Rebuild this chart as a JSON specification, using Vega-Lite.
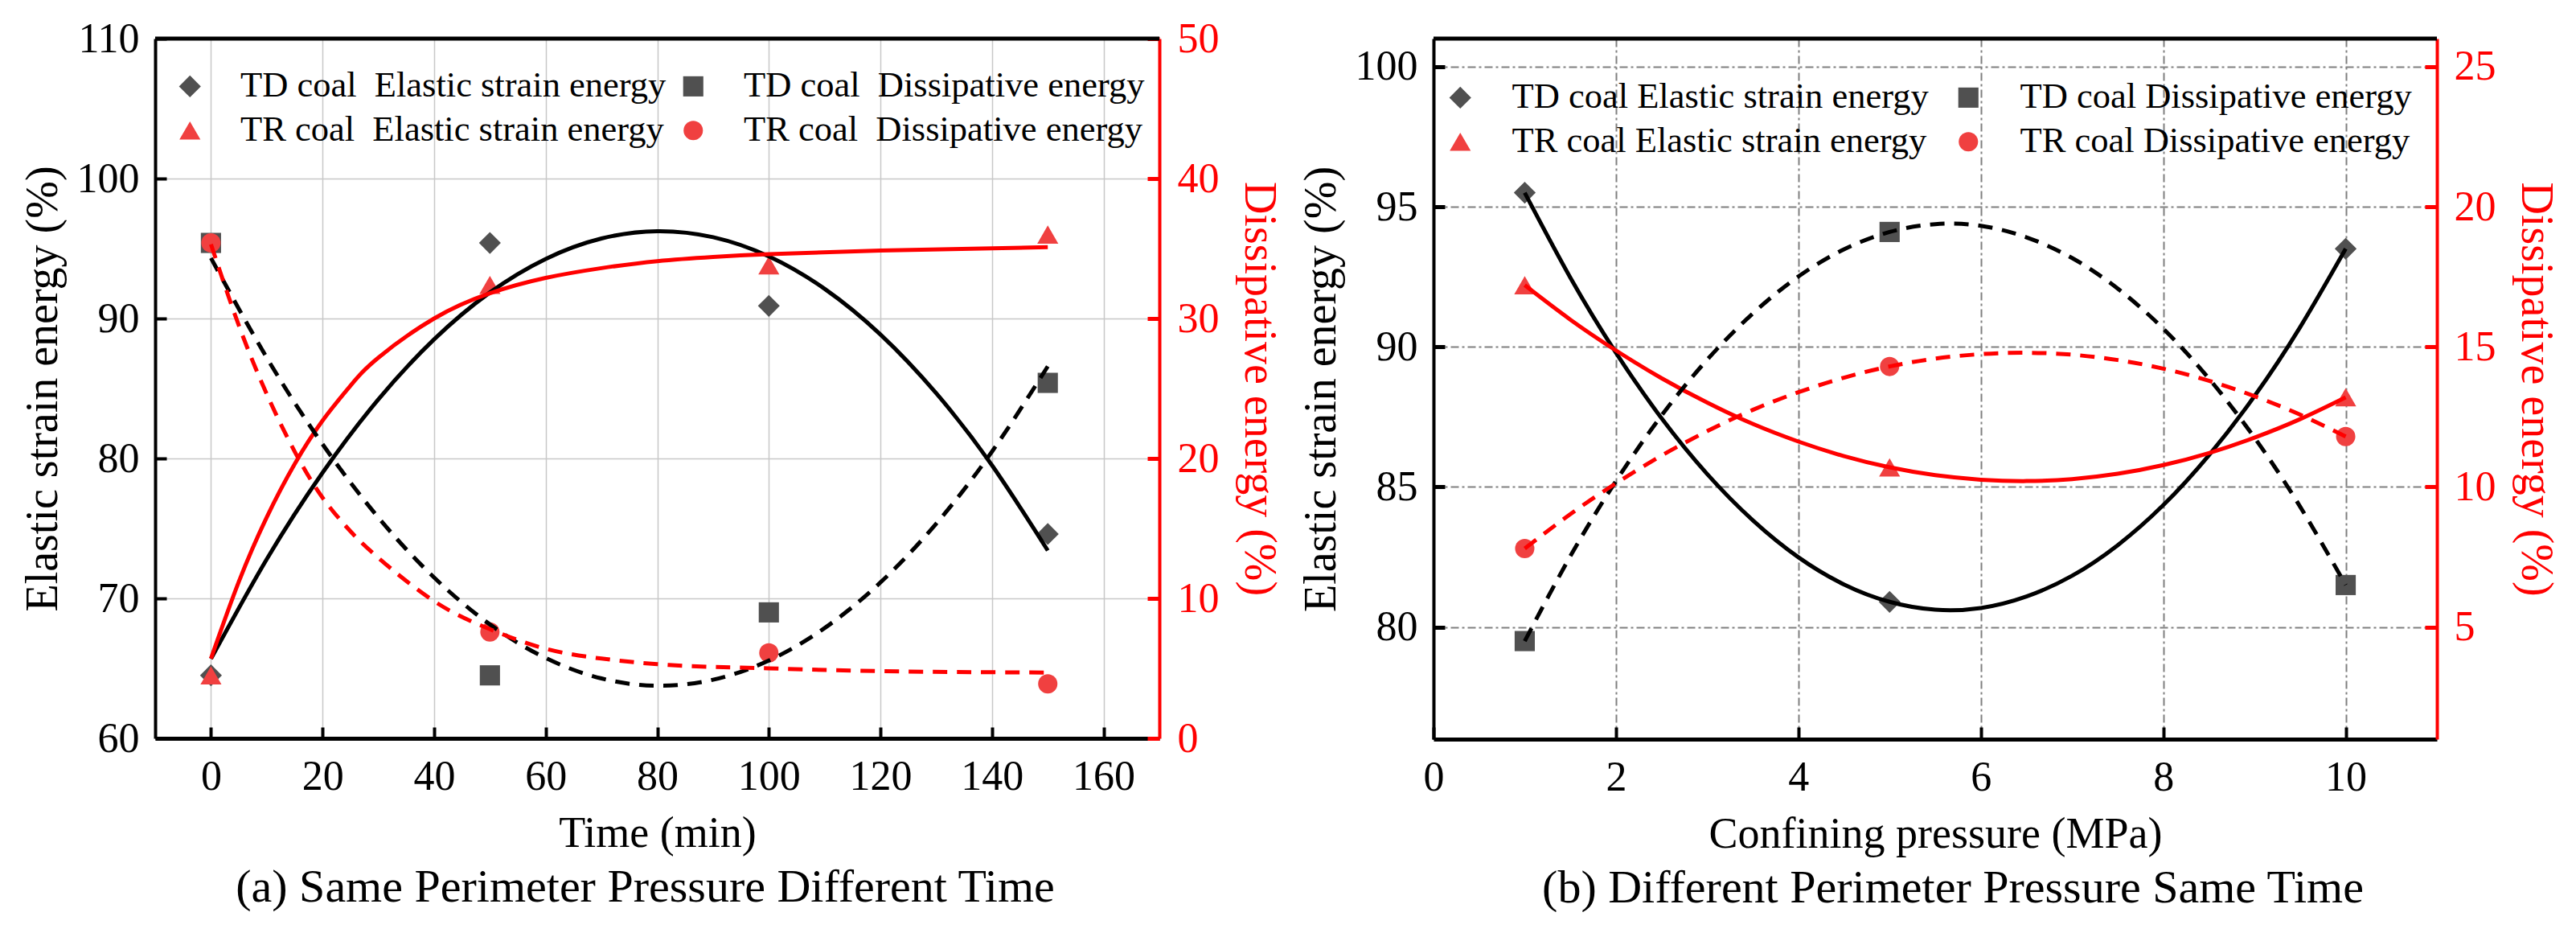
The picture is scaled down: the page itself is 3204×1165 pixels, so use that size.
{
  "$schema": "https://vega.github.io/schema/vega-lite/v6.json",
  "background": "white",
  "padding": {"left": 25, "top": 22, "right": 0, "bottom": 0},
  "spacing": 341,
  "bounds": "flush",
  "datasets": {
    "a_pts": [
      {"x": 0, "s": "TD coal\u00a0 Elastic strain energy", "g": "e", "v": 64.5},
      {"x": 50, "s": "TD coal\u00a0 Elastic strain energy", "g": "e", "v": 95.4},
      {"x": 100, "s": "TD coal\u00a0 Elastic strain energy", "g": "e", "v": 90.9},
      {"x": 150, "s": "TD coal\u00a0 Elastic strain energy", "g": "e", "v": 74.6},
      {"x": 0, "s": "TR coal\u00a0 Elastic strain energy", "g": "e", "v": 64.5},
      {"x": 50, "s": "TR coal\u00a0 Elastic strain energy", "g": "e", "v": 92.4},
      {"x": 100, "s": "TR coal\u00a0 Elastic strain energy", "g": "e", "v": 93.8},
      {"x": 150, "s": "TR coal\u00a0 Elastic strain energy", "g": "e", "v": 96.0},
      {"x": 0, "s": "TD coal\u00a0 Dissipative energy", "g": "d", "v": 35.4},
      {"x": 50, "s": "TD coal\u00a0 Dissipative energy", "g": "d", "v": 4.5},
      {"x": 100, "s": "TD coal\u00a0 Dissipative energy", "g": "d", "v": 9.0},
      {"x": 150, "s": "TD coal\u00a0 Dissipative energy", "g": "d", "v": 25.4},
      {"x": 0, "s": "TR coal\u00a0 Dissipative energy", "g": "d", "v": 35.4},
      {"x": 50, "s": "TR coal\u00a0 Dissipative energy", "g": "d", "v": 7.6},
      {"x": 100, "s": "TR coal\u00a0 Dissipative energy", "g": "d", "v": 6.1},
      {"x": 150, "s": "TR coal\u00a0 Dissipative energy", "g": "d", "v": 3.9}
    ],
    "a_curves": [
      {"x": 0, "c": "TD", "g": "e", "v": 65.68},
      {"x": 10, "c": "TD", "g": "e", "v": 72.8},
      {"x": 20, "c": "TD", "g": "e", "v": 78.98},
      {"x": 30, "c": "TD", "g": "e", "v": 84.22},
      {"x": 40, "c": "TD", "g": "e", "v": 88.51},
      {"x": 50, "c": "TD", "g": "e", "v": 91.86},
      {"x": 60, "c": "TD", "g": "e", "v": 94.26},
      {"x": 70, "c": "TD", "g": "e", "v": 95.72},
      {"x": 80, "c": "TD", "g": "e", "v": 96.24},
      {"x": 90, "c": "TD", "g": "e", "v": 95.81},
      {"x": 100, "c": "TD", "g": "e", "v": 94.44},
      {"x": 110, "c": "TD", "g": "e", "v": 92.12},
      {"x": 120, "c": "TD", "g": "e", "v": 88.86},
      {"x": 130, "c": "TD", "g": "e", "v": 84.66},
      {"x": 140, "c": "TD", "g": "e", "v": 79.51},
      {"x": 150, "c": "TD", "g": "e", "v": 73.42},
      {"x": 0, "c": "TR", "g": "e", "v": 65.7},
      {"x": 5, "c": "TR", "g": "e", "v": 71.2},
      {"x": 10, "c": "TR", "g": "e", "v": 75.8},
      {"x": 15, "c": "TR", "g": "e", "v": 79.6},
      {"x": 20, "c": "TR", "g": "e", "v": 82.7},
      {"x": 25, "c": "TR", "g": "e", "v": 85.2},
      {"x": 30, "c": "TR", "g": "e", "v": 87.2},
      {"x": 40, "c": "TR", "g": "e", "v": 90.0},
      {"x": 50, "c": "TR", "g": "e", "v": 91.8},
      {"x": 60, "c": "TR", "g": "e", "v": 92.9},
      {"x": 70, "c": "TR", "g": "e", "v": 93.6},
      {"x": 80, "c": "TR", "g": "e", "v": 94.1},
      {"x": 90, "c": "TR", "g": "e", "v": 94.4},
      {"x": 100, "c": "TR", "g": "e", "v": 94.6},
      {"x": 120, "c": "TR", "g": "e", "v": 94.85},
      {"x": 150, "c": "TR", "g": "e", "v": 95.1},
      {"x": 0, "c": "TD", "g": "d", "v": 34.32},
      {"x": 10, "c": "TD", "g": "d", "v": 27.2},
      {"x": 20, "c": "TD", "g": "d", "v": 21.02},
      {"x": 30, "c": "TD", "g": "d", "v": 15.78},
      {"x": 40, "c": "TD", "g": "d", "v": 11.49},
      {"x": 50, "c": "TD", "g": "d", "v": 8.14},
      {"x": 60, "c": "TD", "g": "d", "v": 5.74},
      {"x": 70, "c": "TD", "g": "d", "v": 4.28},
      {"x": 80, "c": "TD", "g": "d", "v": 3.76},
      {"x": 90, "c": "TD", "g": "d", "v": 4.19},
      {"x": 100, "c": "TD", "g": "d", "v": 5.56},
      {"x": 110, "c": "TD", "g": "d", "v": 7.88},
      {"x": 120, "c": "TD", "g": "d", "v": 11.14},
      {"x": 130, "c": "TD", "g": "d", "v": 15.34},
      {"x": 140, "c": "TD", "g": "d", "v": 20.49},
      {"x": 150, "c": "TD", "g": "d", "v": 26.58},
      {"x": 0, "c": "TR", "g": "d", "v": 35.3},
      {"x": 5, "c": "TR", "g": "d", "v": 29.5},
      {"x": 10, "c": "TR", "g": "d", "v": 24.6},
      {"x": 15, "c": "TR", "g": "d", "v": 20.5},
      {"x": 20, "c": "TR", "g": "d", "v": 17.2},
      {"x": 25, "c": "TR", "g": "d", "v": 14.8},
      {"x": 30, "c": "TR", "g": "d", "v": 12.9},
      {"x": 40, "c": "TR", "g": "d", "v": 9.8},
      {"x": 50, "c": "TR", "g": "d", "v": 7.8},
      {"x": 60, "c": "TR", "g": "d", "v": 6.4},
      {"x": 70, "c": "TR", "g": "d", "v": 5.7},
      {"x": 80, "c": "TR", "g": "d", "v": 5.3},
      {"x": 90, "c": "TR", "g": "d", "v": 5.1},
      {"x": 100, "c": "TR", "g": "d", "v": 5.0},
      {"x": 120, "c": "TR", "g": "d", "v": 4.8},
      {"x": 150, "c": "TR", "g": "d", "v": 4.7}
    ],
    "b_pts": [
      {"x": 1, "s": "TD coal Elastic strain energy", "g": "e", "v": 95.5},
      {"x": 5, "s": "TD coal Elastic strain energy", "g": "e", "v": 80.9},
      {"x": 10, "s": "TD coal Elastic strain energy", "g": "e", "v": 93.5},
      {"x": 1, "s": "TR coal Elastic strain energy", "g": "e", "v": 92.2},
      {"x": 5, "s": "TR coal Elastic strain energy", "g": "e", "v": 85.7},
      {"x": 10, "s": "TR coal Elastic strain energy", "g": "e", "v": 88.2},
      {"x": 1, "s": "TD coal Dissipative energy", "g": "d", "v": 4.5},
      {"x": 5, "s": "TD coal Dissipative energy", "g": "d", "v": 19.1},
      {"x": 10, "s": "TD coal Dissipative energy", "g": "d", "v": 6.5},
      {"x": 1, "s": "TR coal Dissipative energy", "g": "d", "v": 7.8},
      {"x": 5, "s": "TR coal Dissipative energy", "g": "d", "v": 14.3},
      {"x": 10, "s": "TR coal Dissipative energy", "g": "d", "v": 11.8}
    ],
    "b_curves": [
      {"x": 1, "c": "TD", "g": "e", "v": 95.5},
      {"x": 1.5, "c": "TD", "g": "e", "v": 92.47},
      {"x": 2, "c": "TD", "g": "e", "v": 89.79},
      {"x": 2.5, "c": "TD", "g": "e", "v": 87.45},
      {"x": 3, "c": "TD", "g": "e", "v": 85.46},
      {"x": 3.5, "c": "TD", "g": "e", "v": 83.81},
      {"x": 4, "c": "TD", "g": "e", "v": 82.49},
      {"x": 4.5, "c": "TD", "g": "e", "v": 81.52},
      {"x": 5, "c": "TD", "g": "e", "v": 80.9},
      {"x": 5.5, "c": "TD", "g": "e", "v": 80.62},
      {"x": 6, "c": "TD", "g": "e", "v": 80.68},
      {"x": 6.5, "c": "TD", "g": "e", "v": 81.09},
      {"x": 7, "c": "TD", "g": "e", "v": 81.83},
      {"x": 7.5, "c": "TD", "g": "e", "v": 82.92},
      {"x": 8, "c": "TD", "g": "e", "v": 84.35},
      {"x": 8.5, "c": "TD", "g": "e", "v": 86.13},
      {"x": 9, "c": "TD", "g": "e", "v": 88.24},
      {"x": 9.5, "c": "TD", "g": "e", "v": 90.7},
      {"x": 10, "c": "TD", "g": "e", "v": 93.5},
      {"x": 1, "c": "TR", "g": "e", "v": 92.2},
      {"x": 1.5, "c": "TR", "g": "e", "v": 90.97},
      {"x": 2, "c": "TR", "g": "e", "v": 89.87},
      {"x": 2.5, "c": "TR", "g": "e", "v": 88.88},
      {"x": 3, "c": "TR", "g": "e", "v": 88.01},
      {"x": 3.5, "c": "TR", "g": "e", "v": 87.25},
      {"x": 4, "c": "TR", "g": "e", "v": 86.62},
      {"x": 4.5, "c": "TR", "g": "e", "v": 86.1},
      {"x": 5, "c": "TR", "g": "e", "v": 85.7},
      {"x": 5.5, "c": "TR", "g": "e", "v": 85.42},
      {"x": 6, "c": "TR", "g": "e", "v": 85.26},
      {"x": 6.5, "c": "TR", "g": "e", "v": 85.21},
      {"x": 7, "c": "TR", "g": "e", "v": 85.28},
      {"x": 7.5, "c": "TR", "g": "e", "v": 85.47},
      {"x": 8, "c": "TR", "g": "e", "v": 85.78},
      {"x": 8.5, "c": "TR", "g": "e", "v": 86.21},
      {"x": 9, "c": "TR", "g": "e", "v": 86.76},
      {"x": 9.5, "c": "TR", "g": "e", "v": 87.42},
      {"x": 10, "c": "TR", "g": "e", "v": 88.2},
      {"x": 1, "c": "TD", "g": "d", "v": 4.5},
      {"x": 1.5, "c": "TD", "g": "d", "v": 7.53},
      {"x": 2, "c": "TD", "g": "d", "v": 10.21},
      {"x": 2.5, "c": "TD", "g": "d", "v": 12.55},
      {"x": 3, "c": "TD", "g": "d", "v": 14.54},
      {"x": 3.5, "c": "TD", "g": "d", "v": 16.19},
      {"x": 4, "c": "TD", "g": "d", "v": 17.51},
      {"x": 4.5, "c": "TD", "g": "d", "v": 18.48},
      {"x": 5, "c": "TD", "g": "d", "v": 19.1},
      {"x": 5.5, "c": "TD", "g": "d", "v": 19.38},
      {"x": 6, "c": "TD", "g": "d", "v": 19.32},
      {"x": 6.5, "c": "TD", "g": "d", "v": 18.91},
      {"x": 7, "c": "TD", "g": "d", "v": 18.17},
      {"x": 7.5, "c": "TD", "g": "d", "v": 17.08},
      {"x": 8, "c": "TD", "g": "d", "v": 15.65},
      {"x": 8.5, "c": "TD", "g": "d", "v": 13.87},
      {"x": 9, "c": "TD", "g": "d", "v": 11.76},
      {"x": 9.5, "c": "TD", "g": "d", "v": 9.3},
      {"x": 10, "c": "TD", "g": "d", "v": 6.5},
      {"x": 1, "c": "TR", "g": "d", "v": 7.8},
      {"x": 1.5, "c": "TR", "g": "d", "v": 9.03},
      {"x": 2, "c": "TR", "g": "d", "v": 10.13},
      {"x": 2.5, "c": "TR", "g": "d", "v": 11.12},
      {"x": 3, "c": "TR", "g": "d", "v": 11.99},
      {"x": 3.5, "c": "TR", "g": "d", "v": 12.75},
      {"x": 4, "c": "TR", "g": "d", "v": 13.38},
      {"x": 4.5, "c": "TR", "g": "d", "v": 13.9},
      {"x": 5, "c": "TR", "g": "d", "v": 14.3},
      {"x": 5.5, "c": "TR", "g": "d", "v": 14.58},
      {"x": 6, "c": "TR", "g": "d", "v": 14.74},
      {"x": 6.5, "c": "TR", "g": "d", "v": 14.79},
      {"x": 7, "c": "TR", "g": "d", "v": 14.72},
      {"x": 7.5, "c": "TR", "g": "d", "v": 14.53},
      {"x": 8, "c": "TR", "g": "d", "v": 14.22},
      {"x": 8.5, "c": "TR", "g": "d", "v": 13.79},
      {"x": 9, "c": "TR", "g": "d", "v": 13.24},
      {"x": 9.5, "c": "TR", "g": "d", "v": 12.58},
      {"x": 10, "c": "TR", "g": "d", "v": 11.8}
    ]
  },
  "hconcat": [
    {
      "width": 1249,
      "height": 870,
      "title": {"text": "(a) Same Perimeter Pressure Different Time", "orient": "bottom", "fontSize": 58, "offset": 12, "dx": -15},
      "encoding": {
        "x": {
          "field": "x", "type": "quantitative",
          "scale": {"domain": [-10, 170], "nice": false, "zero": false},
          "axis": {
            "values": [0, 20, 40, 60, 80, 100, 120, 140, 160],
            "title": "Time (min)",
            "grid": true, "gridColor": "#c8c8c8", "gridWidth": 1.5,
            "domainColor": "#000000", "domainWidth": 5,
            "tickColor": "#000000", "tickWidth": 4, "tickSize": -14,
            "labelPadding": 36, "titlePadding": 18
          }
        }
      },
      "layer": [
        {
          "data": {"name": "a_pts"},
          "transform": [{"filter": "datum.g === 'e'"}],
          "mark": {"type": "point", "filled": true, "opacity": 1},
          "encoding": {
            "y": {
              "field": "v", "type": "quantitative",
              "scale": {"domain": [60, 110], "nice": false, "zero": false},
              "axis": {
                "orient": "left",
                "values": [60, 70, 80, 90, 100, 110],
                "title": "Elastic strain energy (%)",
                "grid": true, "gridColor": "#c8c8c8", "gridWidth": 1.5,
                "domainColor": "#000000", "domainWidth": 4,
                "tickColor": "#000000", "tickWidth": 4, "tickSize": -14,
                "labelPadding": 34, "titlePadding": 13
              }
            },
            "color": {
              "field": "s", "type": "nominal",
              "scale": {
                "domain": ["TD coal\u00a0 Elastic strain energy", "TR coal\u00a0 Elastic strain energy", "TD coal\u00a0 Dissipative energy", "TR coal\u00a0 Dissipative energy"],
                "range": ["#505050", "#f04040", "#505050", "#f04040"]
              },
              "legend": {
                "title": null, "orient": "none", "legendX": 21, "legendY": 37,
                "columns": 2, "columnPadding": 11, "rowPadding": 10, "labelOffset": 40.5, "symbolSize": 600
              }
            },
            "shape": {
              "field": "s", "type": "nominal",
              "scale": {
                "domain": ["TD coal\u00a0 Elastic strain energy", "TR coal\u00a0 Elastic strain energy", "TD coal\u00a0 Dissipative energy", "TR coal\u00a0 Dissipative energy"],
                "range": ["diamond", "triangle-up", "square", "circle"]
              }
            },
            "size": {
              "field": "s", "type": "nominal", "legend": null,
              "scale": {
                "domain": ["TD coal\u00a0 Elastic strain energy", "TR coal\u00a0 Elastic strain energy", "TD coal\u00a0 Dissipative energy", "TR coal\u00a0 Dissipative energy"],
                "range": [740, 576, 361, 484]
              }
            }
          }
        },
        {
          "data": {"name": "a_pts"},
          "transform": [{"filter": "datum.g === 'd'"}],
          "mark": {"type": "point", "filled": true, "opacity": 1},
          "encoding": {
            "y": {
              "field": "v", "type": "quantitative",
              "scale": {"domain": [0, 50], "nice": false, "zero": false},
              "axis": {
                "orient": "right",
                "values": [0, 10, 20, 30, 40, 50],
                "title": "Dissipative energy (%)",
                "grid": false,
                "domainColor": "#ff0000", "domainWidth": 4,
                "tickColor": "#ff0000", "tickWidth": 5, "tickSize": -15,
                "labelColor": "#ff0000", "titleColor": "#ff0000",
                "labelPadding": 37, "titlePadding": 20
              }
            },
            "color": {
              "field": "s", "type": "nominal",
              "scale": {
                "domain": ["TD coal\u00a0 Elastic strain energy", "TR coal\u00a0 Elastic strain energy", "TD coal\u00a0 Dissipative energy", "TR coal\u00a0 Dissipative energy"],
                "range": ["#505050", "#f04040", "#505050", "#f04040"]
              }
            },
            "shape": {
              "field": "s", "type": "nominal",
              "scale": {
                "domain": ["TD coal\u00a0 Elastic strain energy", "TR coal\u00a0 Elastic strain energy", "TD coal\u00a0 Dissipative energy", "TR coal\u00a0 Dissipative energy"],
                "range": ["diamond", "triangle-up", "square", "circle"]
              }
            },
            "size": {
              "field": "s", "type": "nominal", "legend": null,
              "scale": {
                "domain": ["TD coal\u00a0 Elastic strain energy", "TR coal\u00a0 Elastic strain energy", "TD coal\u00a0 Dissipative energy", "TR coal\u00a0 Dissipative energy"],
                "range": [740, 576, 361, 484]
              }
            }
          }
        },
        {
          "data": {"name": "a_curves"},
          "transform": [{"filter": "datum.g === 'e'"}],
          "mark": {"type": "line", "interpolate": "natural", "strokeWidth": 5},
          "encoding": {
            "y": {"field": "v", "type": "quantitative", "scale": {"domain": [60, 110], "nice": false, "zero": false}, "axis": null},
            "stroke": {"field": "c", "type": "nominal", "scale": {"domain": ["TD", "TR"], "range": ["#000000", "#ff0000"]}, "legend": null}
          }
        },
        {
          "data": {"name": "a_curves"},
          "transform": [{"filter": "datum.g === 'd'"}],
          "mark": {"type": "line", "interpolate": "natural", "strokeWidth": 5, "strokeDash": [18, 12]},
          "encoding": {
            "y": {"field": "v", "type": "quantitative", "scale": {"domain": [0, 50], "nice": false, "zero": false}, "axis": null},
            "stroke": {"field": "c", "type": "nominal", "scale": {"domain": ["TD", "TR"], "range": ["#000000", "#ff0000"]}, "legend": null}
          }
        },
        {
          "data": {"values": [{"x": -10, "x_end": 170, "top": 110}]},
          "mark": {"type": "rule", "strokeWidth": 5, "color": "#000000"},
          "encoding": {
            "x2": {"field": "x_end"},
            "y": {"field": "top", "type": "quantitative", "scale": {"domain": [60, 110], "nice": false, "zero": false}, "axis": null}
          }
        }
      ],
      "resolve": {"scale": {"y": "independent"}}
    },
    {
      "width": 1248,
      "height": 871,
      "title": {"text": "(b) Different Perimeter Pressure Same Time", "orient": "bottom", "fontSize": 58, "offset": 12, "dx": 22},
      "encoding": {
        "x": {
          "field": "x", "type": "quantitative",
          "scale": {"domain": [0, 11], "nice": false, "zero": false},
          "axis": {
            "values": [0, 2, 4, 6, 8, 10],
            "title": "Confining pressure (MPa)",
            "grid": true, "gridColor": "#808080", "gridWidth": 2, "gridDash": [10, 4, 3, 4],
            "domainColor": "#000000", "domainWidth": 5,
            "tickColor": "#000000", "tickWidth": 4, "tickSize": -15,
            "labelPadding": 37, "titlePadding": 18
          }
        }
      },
      "layer": [
        {
          "data": {"name": "b_pts"},
          "transform": [{"filter": "datum.g === 'e'"}],
          "mark": {"type": "point", "filled": true, "opacity": 1},
          "encoding": {
            "y": {
              "field": "v", "type": "quantitative",
              "scale": {"domain": [76, 101], "nice": false, "zero": false},
              "axis": {
                "orient": "left",
                "values": [80, 85, 90, 95, 100],
                "title": "Elastic strain energy (%)",
                "grid": true, "gridColor": "#808080", "gridWidth": 2, "gridDash": [10, 4, 3, 4],
                "domainColor": "#000000", "domainWidth": 4,
                "tickColor": "#000000", "tickWidth": 5, "tickSize": -14,
                "labelPadding": 34, "titlePadding": 13
              }
            },
            "color": {
              "field": "s", "type": "nominal",
              "scale": {
                "domain": ["TD coal Elastic strain energy", "TR coal Elastic strain energy", "TD coal Dissipative energy", "TR coal Dissipative energy"],
                "range": ["#505050", "#f04040", "#505050", "#f04040"]
              },
              "legend": {
                "title": null, "orient": "none", "legendX": 11, "legendY": 51,
                "columns": 2, "columnPadding": 27, "rowPadding": 10, "labelOffset": 42, "symbolSize": 600
              }
            },
            "shape": {
              "field": "s", "type": "nominal",
              "scale": {
                "domain": ["TD coal Elastic strain energy", "TR coal Elastic strain energy", "TD coal Dissipative energy", "TR coal Dissipative energy"],
                "range": ["diamond", "triangle-up", "square", "circle"]
              }
            },
            "size": {
              "field": "s", "type": "nominal", "legend": null,
              "scale": {
                "domain": ["TD coal Elastic strain energy", "TR coal Elastic strain energy", "TD coal Dissipative energy", "TR coal Dissipative energy"],
                "range": [740, 576, 361, 484]
              }
            }
          }
        },
        {
          "data": {"name": "b_pts"},
          "transform": [{"filter": "datum.g === 'd'"}],
          "mark": {"type": "point", "filled": true, "opacity": 1},
          "encoding": {
            "y": {
              "field": "v", "type": "quantitative",
              "scale": {"domain": [1, 26], "nice": false, "zero": false},
              "axis": {
                "orient": "right",
                "values": [5, 10, 15, 20, 25],
                "title": "Dissipative energy (%)",
                "grid": false,
                "domainColor": "#ff0000", "domainWidth": 4,
                "tickColor": "#ff0000", "tickWidth": 5, "tickSize": -15,
                "labelColor": "#ff0000", "titleColor": "#ff0000",
                "labelPadding": 36, "titlePadding": 20
              }
            },
            "color": {
              "field": "s", "type": "nominal",
              "scale": {
                "domain": ["TD coal Elastic strain energy", "TR coal Elastic strain energy", "TD coal Dissipative energy", "TR coal Dissipative energy"],
                "range": ["#505050", "#f04040", "#505050", "#f04040"]
              }
            },
            "shape": {
              "field": "s", "type": "nominal",
              "scale": {
                "domain": ["TD coal Elastic strain energy", "TR coal Elastic strain energy", "TD coal Dissipative energy", "TR coal Dissipative energy"],
                "range": ["diamond", "triangle-up", "square", "circle"]
              }
            },
            "size": {
              "field": "s", "type": "nominal", "legend": null,
              "scale": {
                "domain": ["TD coal Elastic strain energy", "TR coal Elastic strain energy", "TD coal Dissipative energy", "TR coal Dissipative energy"],
                "range": [740, 576, 361, 484]
              }
            }
          }
        },
        {
          "data": {"name": "b_curves"},
          "transform": [{"filter": "datum.g === 'e'"}],
          "mark": {"type": "line", "interpolate": "natural", "strokeWidth": 5},
          "encoding": {
            "y": {"field": "v", "type": "quantitative", "scale": {"domain": [76, 101], "nice": false, "zero": false}, "axis": null},
            "stroke": {"field": "c", "type": "nominal", "scale": {"domain": ["TD", "TR"], "range": ["#000000", "#ff0000"]}, "legend": null}
          }
        },
        {
          "data": {"name": "b_curves"},
          "transform": [{"filter": "datum.g === 'd'"}],
          "mark": {"type": "line", "interpolate": "natural", "strokeWidth": 5, "strokeDash": [18, 12]},
          "encoding": {
            "y": {"field": "v", "type": "quantitative", "scale": {"domain": [1, 26], "nice": false, "zero": false}, "axis": null},
            "stroke": {"field": "c", "type": "nominal", "scale": {"domain": ["TD", "TR"], "range": ["#000000", "#ff0000"]}, "legend": null}
          }
        },
        {
          "data": {"values": [{"x": 0, "x_end": 11, "top": 101}]},
          "mark": {"type": "rule", "strokeWidth": 5, "color": "#000000"},
          "encoding": {
            "x2": {"field": "x_end"},
            "y": {"field": "top", "type": "quantitative", "scale": {"domain": [76, 101], "nice": false, "zero": false}, "axis": null}
          }
        }
      ],
      "resolve": {"scale": {"y": "independent"}}
    }
  ],
  "resolve": {
    "scale": {"color": "independent", "shape": "independent", "size": "independent", "stroke": "independent"},
    "legend": {"color": "independent", "shape": "independent", "size": "independent"}
  },
  "config": {
    "font": "Liberation Serif",
    "view": {"stroke": null},
    "axis": {
      "labelFont": "Liberation Serif", "titleFont": "Liberation Serif",
      "labelFontSize": 52, "titleFontSize": 56, "titleFontWeight": "normal",
      "labelColor": "#000000", "titleColor": "#000000", "labelFlush": false, "labelOverlap": false
    },
    "axisX": {"titleFontSize": 54},
    "legend": {
      "labelFont": "Liberation Serif", "labelFontSize": 44.5, "labelColor": "#000000",
      "labelLimit": 2000, "symbolStrokeWidth": 0, "symbolOpacity": 1
    },
    "title": {"font": "Liberation Serif", "fontWeight": "normal", "color": "#000000", "anchor": "middle"}
  }
}
